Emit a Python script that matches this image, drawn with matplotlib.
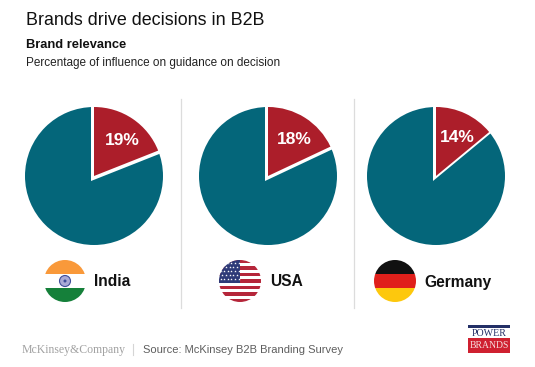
import numpy as np
import matplotlib
matplotlib.use("Agg")
import matplotlib.pyplot as plt
from matplotlib.patches import Circle, Rectangle

W, H = 535, 367

countries = ["India", "USA", "Germany"]
shares = [19, 18, 14]
pie_x = [94, 268, 436]
flag_x = [65, 240, 395]
label_x = [94, 270, 424]

TEAL = "#04667a"
RED = "#ac1e2a"

plt.rcParams["font.family"] = ["Liberation Sans", "DejaVu Sans"]

fig = plt.figure(figsize=(W / 100, H / 100), dpi=100, facecolor="white")
ax = fig.add_axes([0, 0, 1, 1])
ax.set_xlim(0, W)
ax.set_ylim(H, 0)
ax.axis("off")

# Header
ax.text(26, 20.5, "Brands drive decisions in B2B", fontsize=12.85, color="#111111", va="center")
ax.text(26, 45, "Brand relevance", fontsize=9.25, fontweight="bold", color="#111111", va="center")
ax.text(26, 63, "Percentage of influence on guidance on decision", fontsize=8.45, color="#222222", va="center")

# Pies, each in its own axes so the angles are not flipped
pie_r = 69
pie_y = 176
for x, share in zip(pie_x, shares):
    pie_ax = fig.add_axes([(x - pie_r - 2) / W, 1 - (pie_y + pie_r + 2) / H,
                           (2 * pie_r + 4) / W, (2 * pie_r + 4) / H])
    # teal disc, then a white notch a little off centre, then the red slice
    pie_ax.pie([100], colors=[TEAL], radius=1)
    pie_ax.pie([share, 100 - share], colors=["white", "none"], startangle=90, counterclock=False,
               radius=1.2, center=(-3 / pie_r, -5 / pie_r))
    pie_ax.pie([share, 100 - share], colors=[RED, "none"], startangle=90, counterclock=False, radius=1)
    pie_ax.set_xlim(-71 / pie_r, 71 / pie_r)
    pie_ax.set_ylim(-71 / pie_r, 71 / pie_r)
    mid = np.deg2rad(90 - share * 3.6 / 2)
    pie_ax.text(0.67 * np.cos(mid) + 2 / pie_r, 0.67 * np.sin(mid) - 3 / pie_r, f"{share}%", color="white",
                fontsize=12.5, fontweight="bold", ha="center", va="center")

# Dividers
for x in [181, 354]:
    ax.plot([x, x], [99, 308], color="#dcdcdc", lw=0.9)


def clipped_rect(x0, y0, w, h, color, clip):
    r = Rectangle((x0, y0), w, h, facecolor=color, edgecolor="none")
    ax.add_patch(r)
    r.set_clip_path(clip)


# Flags
flag_y = 281
flag_r = 21
for name, fx, lx in zip(countries, flag_x, label_x):
    clip = Circle((fx, flag_y), flag_r, transform=ax.transData)
    x0 = fx - flag_r
    y0 = flag_y - flag_r
    d = 2 * flag_r
    if name == "India":
        clipped_rect(x0, y0, d, d / 3, "#f9993a", clip)
        clipped_rect(x0, y0 + d / 3, d, d / 3, "white", clip)
        clipped_rect(x0, y0 + 2 * d / 3, d, d / 3, "#15803a", clip)
        ax.add_patch(Circle((fx, flag_y), 5.5, facecolor="#a9a9d6", edgecolor="#3f4d9a", lw=0.8))
        ax.add_patch(Circle((fx, flag_y), 1.5, facecolor="#3f4d9a", edgecolor="none"))
    elif name == "USA":
        clipped_rect(x0, y0, d, d, "white", clip)
        for i in range(7):
            clipped_rect(x0, y0 + i * 2 * d / 13, d, d / 13, "#b5263a", clip)
        clipped_rect(x0, y0, d * 0.5, d * 7 / 13, "#2e3a78", clip)
        for row in range(5):
            for col in range(5 if row % 2 else 6):
                sx = x0 + 1.5 + col * 3.6 + (1.8 if row % 2 else 0)
                sy = y0 + 2.5 + row * 4.2
                s = ax.scatter(sx, sy, s=3.5, marker="*", color="white", linewidths=0, zorder=3)
                s.set_clip_path(clip)
    else:
        clipped_rect(x0, y0, d, d / 3, "#111111", clip)
        clipped_rect(x0, y0 + d / 3, d, d / 3, "#e0201b", clip)
        clipped_rect(x0, y0 + 2 * d / 3, d, d / 3, "#fdc80d", clip)
    ax.text(lx, flag_y + 1, name, fontsize=11.2, fontweight="bold", color="#111111", va="center")

# Footer
ax.text(22, 350, "McKinsey&Company", family="Liberation Serif", fontsize=8.5, color="#a2a2a2", va="center")
ax.plot([133, 133], [344, 355], color="#d5d5d5", lw=0.8)
ax.text(143, 350, "Source: McKinsey B2B Branding Survey", fontsize=8.05, color="#5e5e5e", va="center")

# Logo
ax.add_patch(Rectangle((468, 324.5), 42, 3, facecolor="#232f66", edgecolor="none"))
ax.text(489, 333.5, "POWER", family="Liberation Serif", fontsize=7.2, color="#232f66", ha="center", va="center")
ax.add_patch(Rectangle((468, 338), 42, 15, facecolor="#cf2030", edgecolor="none"))
ax.text(489, 345.5, "BRANDS", family="Liberation Serif", fontsize=6.9, color="#f6dcdc", ha="center", va="center")

fig.savefig("out.png", dpi=100)
